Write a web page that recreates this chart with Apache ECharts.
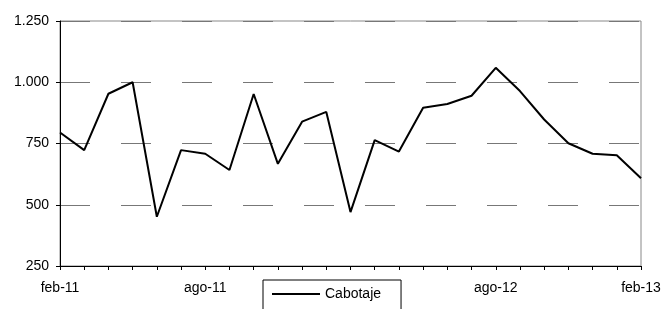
<!DOCTYPE html>
<html lang="es">
<head>
<meta charset="UTF-8">
<title>Cabotaje</title>
<style>
  html, body { margin: 0; padding: 0; background: #fff; }
  #chart1 { width: 664px; height: 309px; }
</style>
</head>
<body>
<div id="chart1"></div>
<script src="https://cdn.jsdelivr.net/npm/echarts@6/dist/echarts.min.js"></script>
<script type="text/javascript">
// meses (feb-11 .. feb-13)
var meses = ['feb-11','mar-11','abr-11','may-11','jun-11','jul-11','ago-11','sep-11','oct-11','nov-11','dic-11','ene-12',
             'feb-12','mar-12','abr-12','may-12','jun-12','jul-12','ago-12','sep-12','oct-12','nov-12','dic-12','ene-13','feb-13'];
// valores
var cabotaje = [795, 723, 953, 1000, 451, 723, 708, 642, 952, 667, 839, 879,
                470, 764, 717, 896, 911, 945, 1059, 964, 848, 751, 708, 702, 608];
var yTicks = [250, 500, 750, 1000, 1250];

var fuente = 'Liberation Sans, Arial, sans-serif';

var option = {
    animation: false,
    grid: {
        left: 60, right: 23, top: 21, bottom: 43,
        show: true, borderColor: '#888', borderWidth: 1
    },
    legend: {
        data: ['Cabotaje'],
        left: 263, top: 280,
        padding: [7, 20, 12, 9],
        itemWidth: 48, itemHeight: 14,
        backgroundColor: '#fff',
        borderColor: '#000', borderWidth: 1,
        icon: 'path://M0,6 L48,6 L48,8 L0,8 Z',
        itemStyle: { color: '#000' },
        textStyle: { fontFamily: fuente, fontSize: 14, color: '#000' },
        z: 10
    },
    xAxis: {
        type: 'category',
        data: meses,
        boundaryGap: false,
        axisLine: { lineStyle: { color: '#000', width: 1 } },
        axisTick: { show: true, interval: 0, length: 4, lineStyle: { color: '#000' } },
        axisLabel: { interval: 5, margin: 15, fontFamily: fuente, fontSize: 14, color: '#000' },
        splitLine: { show: false }
    },
    yAxis: {
        type: 'value',
        min: yTicks[0], max: yTicks[yTicks.length - 1], interval: 250,
        axisLine: { show: true, lineStyle: { color: '#000', width: 1 } },
        axisTick: { show: true, length: 4, lineStyle: { color: '#000' } },
        axisLabel: {
            margin: 11, fontFamily: fuente, fontSize: 14, color: '#000',
            formatter: function (v) { return String(v).replace(/\B(?=(\d{3})+(?!\d))/g, '.'); }
        },
        splitLine: { show: true, lineStyle: { color: '#777', width: 1, type: [30, 31] } }
    },
    series: [{
        name: 'Cabotaje',
        type: 'line',
        data: cabotaje,
        symbol: 'none',
        lineStyle: { color: '#000', width: 2 },
        itemStyle: { color: '#000' }
    }]
};

var myChart = echarts.init(document.getElementById('chart1'));
myChart.setOption(option);
</script>
</body>
</html>
